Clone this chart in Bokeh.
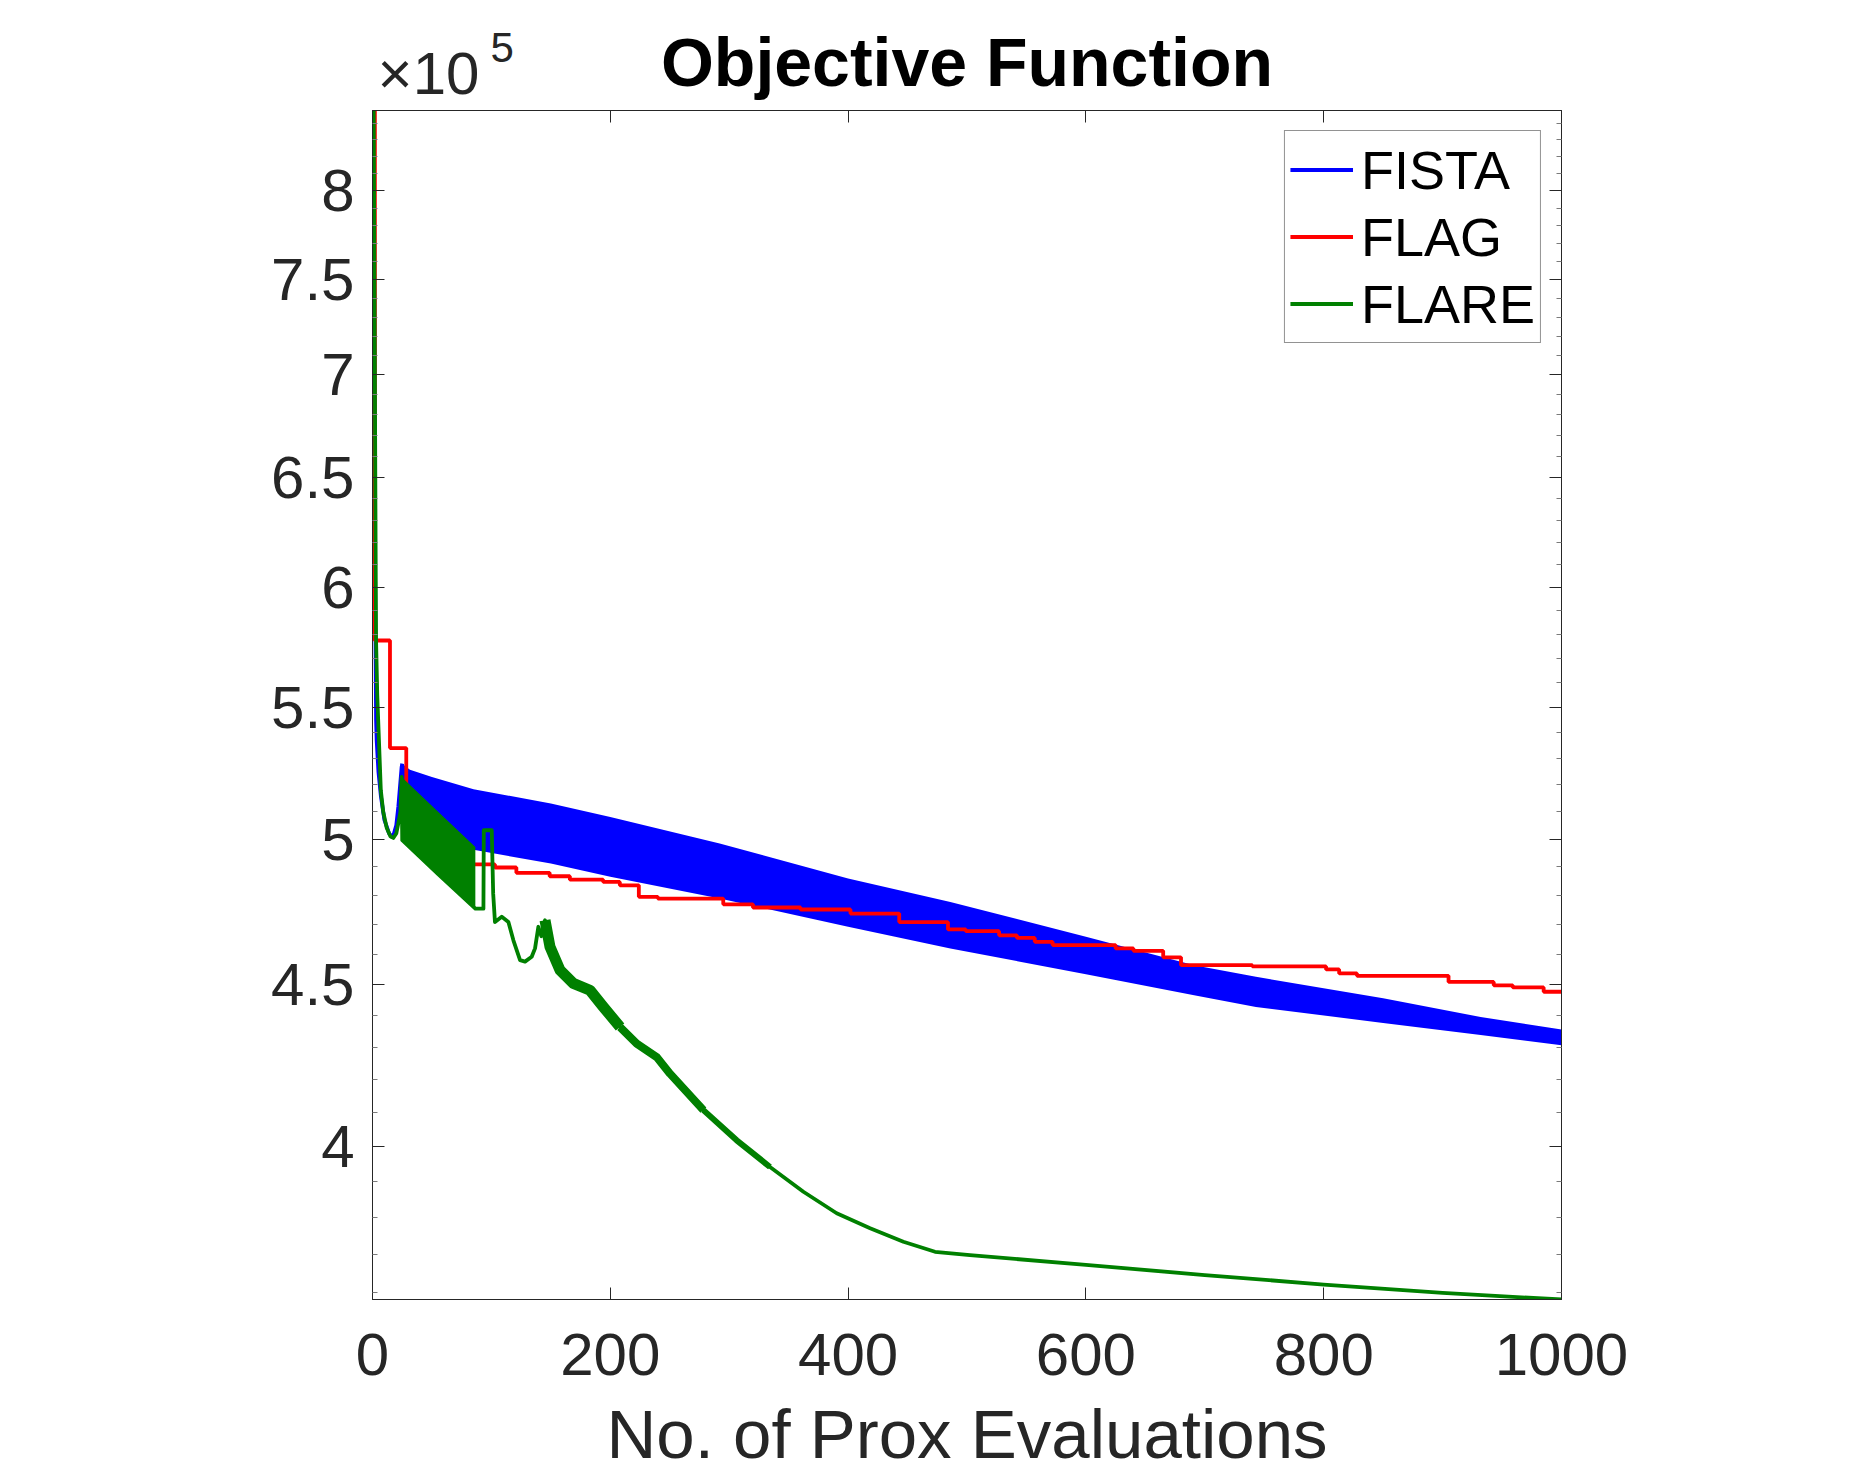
from bokeh.plotting import figure
from bokeh.models import (FixedTicker, LinearAxis, LogAxis, CustomJSTickFormatter,
                          Legend, LegendItem, Range1d)
from bokeh.embed import file_html
from bokeh.resources import INLINE

# ---------------- data ----------------
X_TICKS = [0, 200, 400, 600, 800, 1000]
X_TICK_LABELS = ["0", "200", "400", "600", "800", "1000"]
Y_TICKS = [4.0e5, 4.5e5, 5.0e5, 5.5e5, 6.0e5, 6.5e5, 7.0e5, 7.5e5, 8.0e5]
Y_TICK_LABELS = ["4", "4.5", "5", "5.5", "6", "6.5", "7", "7.5", "8"]
Y_MINOR = [v * 1e4 for v in range(36, 85) if v % 5 != 0]
Y_EXP_BASE = "×10"
Y_EXP_POWER = "5"
X_MIN, X_MAX = 0, 1000
Y_MIN, Y_MAX = 3.581e5, 8.479e5

# FISTA: initial drop, then a fast-oscillating band (upper / lower envelope)
fista_x = [1, 2, 3, 3.5, 5, 7, 10, 14, 17, 20, 21.7, 24.5, 25]
fista_y = [8.479e5, 6.2e5, 5.45e5, 5.371e5, 5.25e5, 5.16e5, 5.07e5, 5.02e5,
           5.005e5, 5.05e5, 5.118e5, 5.268e5, 5.281e5]
fista_band_x = [25, 31.5, 50, 85, 150, 200, 292, 400, 486, 600, 691, 743, 850, 932, 1000]
fista_band_hi = [5.281e5, 5.258e5, 5.23e5, 5.184e5, 5.131e5, 5.081e5, 4.984e5, 4.859e5,
                 4.777e5, 4.658e5, 4.563e5, 4.525e5, 4.455e5, 4.395e5, 4.355e5]
fista_band_lo = [5.01e5, 5.005e5, 4.99e5, 4.961e5, 4.912e5, 4.865e5, 4.789e5, 4.692e5,
                 4.619e5, 4.533e5, 4.465e5, 4.427e5, 4.376e5, 4.338e5, 4.306e5]

# FLAG: staircase (value holds until next x)
flag_x = [1, 2, 14.7, 28.4, 50, 70, 82, 103, 121, 149, 166, 194, 208, 224, 240, 295,
          320, 360, 402, 443, 484, 499, 527, 542, 557, 572, 625, 640, 665, 680, 740,
          802, 813, 828, 905, 943, 959, 985, 1000]
flag_y = [8.479e5, 5.774e5, 5.341e5, 5.00e5, 4.97e5, 4.94e5, 4.909e5, 4.898e5, 4.879e5,
          4.867e5, 4.855e5, 4.847e5, 4.835e5, 4.795e5, 4.789e5, 4.769e5, 4.758e5,
          4.751e5, 4.737e5, 4.708e5, 4.683e5, 4.677e5, 4.663e5, 4.654e5, 4.641e5,
          4.630e5, 4.619e5, 4.611e5, 4.589e5, 4.563e5, 4.559e5, 4.549e5, 4.536e5,
          4.528e5, 4.508e5, 4.497e5, 4.490e5, 4.476e5, 4.476e5]

# FLARE: line, with a saw-tooth band between x=24.5 and 86.5
flare_x = [1, 2, 2.6, 3, 4, 5.2, 7, 9, 12, 15, 17.5, 20, 21.7, 23.5, 24.5, 25, 55.4, 86.5,
           93.3, 93.6, 100.3, 101.5, 103, 108.7, 114.3, 118.5, 124.1, 128.3, 133.9,
           136.7, 139.5, 142, 145.1, 149.3, 157.7, 168.9, 182.9, 194.2, 208.2, 222.2,
           239, 250.2, 278.3, 306.3, 334.3, 362.4, 390.4, 418.5, 446.5, 473.1, 502.5,
           600, 700, 800, 900, 1000]
flare_y = [8.479e5, 7.0e5, 6.2e5, 5.774e5, 5.55e5, 5.398e5, 5.18e5, 5.10e5, 5.04e5,
           5.01e5, 5.004e5, 5.02e5, 5.057e5, 5.10e5, 5.230e5, 4.996e5, 4.874e5, 4.754e5,
           4.754e5, 5.032e5, 5.032e5, 4.806e5, 4.708e5, 4.726e5, 4.708e5, 4.646e5,
           4.580e5, 4.575e5, 4.591e5, 4.619e5, 4.692e5, 4.66e5, 4.714e5, 4.624e5,
           4.547e5, 4.503e5, 4.481e5, 4.427e5, 4.363e5, 4.311e5, 4.269e5, 4.218e5,
           4.108e5, 4.019e5, 3.942e5, 3.872e5, 3.812e5, 3.771e5, 3.734e5, 3.707e5,
           3.698e5, 3.672e5, 3.645e5, 3.620e5, 3.598e5, 3.581e5]
flare_band_x = [24.5, 55.4, 86.5]
flare_band_hi = [5.230e5, 5.099e5, 4.971e5]
flare_band_lo = [4.996e5, 4.874e5, 4.754e5]

# ---------------- layout ----------------
FRAME_W, FRAME_H = 1189, 1189
B_LEFT, B_TOP = 372, 110
B_RIGHT, B_BOTTOM = 1862 - B_LEFT - FRAME_W, 1468 - B_TOP - FRAME_H
TXT = "#262626"
MINOR_C = "#7a7a7a"
FONT = "Liberation Sans"
BLUE, RED, GREEN = "#0000ff", "#ff0000", "#008000"
LW = 3.8
EXP_BASE_X = 47.1    # horizontal place of "×10" along the top edge (data units)
EXP_POWER_X = 109.1  # horizontal place of the superscript

p = figure(frame_width=FRAME_W, frame_height=FRAME_H,
           x_range=Range1d(X_MIN, X_MAX), y_range=Range1d(Y_MIN, Y_MAX),
           y_axis_type="log", output_backend="svg", toolbar_location=None,
           min_border_left=B_LEFT, min_border_right=B_RIGHT,
           min_border_top=B_TOP, min_border_bottom=B_BOTTOM,
           background_fill_color="white", border_fill_color="white",
           outline_line_color=TXT, outline_line_width=1)
p.grid.visible = False
p.title.text = ""

xfmt = CustomJSTickFormatter(args=dict(vals=X_TICKS, labs=X_TICK_LABELS), code="""
for (let i = 0; i < vals.length; i++) { if (Math.abs(vals[i] - tick) < 1e-6) return labs[i]; }
return '';""")
yfmt = CustomJSTickFormatter(args=dict(vals=Y_TICKS, labs=Y_TICK_LABELS), code="""
for (let i = 0; i < vals.length; i++) { if (Math.abs(vals[i] - tick) < 1) return labs[i]; }
return '';""")
blank = CustomJSTickFormatter(code="return '';")


def style_axis(ax, labels=True):
    ax.axis_line_color = TXT
    ax.axis_line_width = 1
    ax.major_tick_line_color = TXT
    ax.minor_tick_line_color = MINOR_C
    ax.major_tick_in = 12
    ax.major_tick_out = 0
    ax.minor_tick_in = 5
    ax.minor_tick_out = 0
    if labels:
        ax.major_label_text_font = FONT
        ax.major_label_text_font_size = "60px"
        ax.major_label_text_color = TXT
    else:
        ax.major_label_text_font_size = "0px"
        ax.major_label_standoff = 0


def text_only_axis(tick_x, text, size, standoff):
    ax = LinearAxis(ticker=FixedTicker(ticks=[tick_x], minor_ticks=[]),
                    formatter=CustomJSTickFormatter(args=dict(lab=text), code="return lab;"))
    ax.axis_line_color = None
    ax.major_tick_line_color = None
    ax.minor_tick_line_color = None
    ax.major_tick_in = 0
    ax.major_tick_out = 0
    ax.major_label_text_font = FONT
    ax.major_label_text_font_size = size
    ax.major_label_text_color = TXT
    ax.major_label_standoff = standoff
    return ax


xb = p.below[0]
xb.ticker = FixedTicker(ticks=X_TICKS, minor_ticks=[])
xb.formatter = xfmt
style_axis(xb)
xb.major_label_standoff = 34
xb.axis_label = "No. of Prox Evaluations"
xb.axis_label_text_font = FONT
xb.axis_label_text_font_size = "69px"
xb.axis_label_text_font_style = "normal"
xb.axis_label_text_color = TXT
xb.axis_label_standoff = 18

yl = p.left[0]
yl.ticker = FixedTicker(ticks=Y_TICKS, minor_ticks=Y_MINOR)
yl.formatter = yfmt
style_axis(yl)
yl.major_label_standoff = 18

# top edge: tick marks only
xt = LinearAxis(ticker=FixedTicker(ticks=X_TICKS, minor_ticks=[]), formatter=blank)
style_axis(xt, labels=False)
p.add_layout(xt, "above")

# superscript of the exponent
x5 = text_only_axis(EXP_POWER_X, Y_EXP_POWER, "42px", 49)
p.add_layout(x5, "above")

# "×10" of the exponent plus the title (as that axis' label)
xe = text_only_axis(EXP_BASE_X, Y_EXP_BASE, "60px", -77)
xe.axis_label = "Objective Function"
xe.axis_label_text_font = FONT
xe.axis_label_text_font_size = "68px"
xe.axis_label_text_font_style = "bold"
xe.axis_label_text_color = "black"
xe.axis_label_standoff = -63
p.add_layout(xe, "above")

yr = LogAxis(ticker=FixedTicker(ticks=Y_TICKS, minor_ticks=Y_MINOR), formatter=blank)
style_axis(yr, labels=False)
p.add_layout(yr, "right")

# ---------------- series ----------------
p.varea(x=fista_band_x, y1=fista_band_lo, y2=fista_band_hi, fill_color=BLUE)
r_fista = p.line(fista_x, fista_y, line_color=BLUE, line_width=LW)
r_flag = p.step(flag_x, flag_y, mode="after", line_color=RED, line_width=LW)
p.varea(x=flare_band_x, y1=flare_band_lo, y2=flare_band_hi, fill_color=GREEN)
r_flare = p.line(flare_x, flare_y, line_color=GREEN, line_width=LW, line_join="round")

# thicker look where FLARE oscillates quickly
for lo_x, hi_x, w in [(145, 209, 11), (208, 280, 8), (278, 335, 6)]:
    idx = [i for i, xv in enumerate(flare_x) if lo_x <= xv <= hi_x]
    p.line([flare_x[i] for i in idx], [flare_y[i] for i in idx],
           line_color=GREEN, line_width=w, line_join="round")

legend = Legend(items=[LegendItem(label="FISTA", renderers=[r_fista]),
                       LegendItem(label="FLAG", renderers=[r_flag]),
                       LegendItem(label="FLARE", renderers=[r_flare])],
                location="top_right", margin=20, padding=5, spacing=0,
                glyph_width=63, glyph_height=67, label_height=67, label_standoff=8,
                label_text_font=FONT, label_text_font_size="54px",
                label_text_color="black", border_line_color=TXT, border_line_width=1,
                background_fill_color="white", background_fill_alpha=1)
p.add_layout(legend)

open("out.html", "w").write(file_html(p, INLINE))
